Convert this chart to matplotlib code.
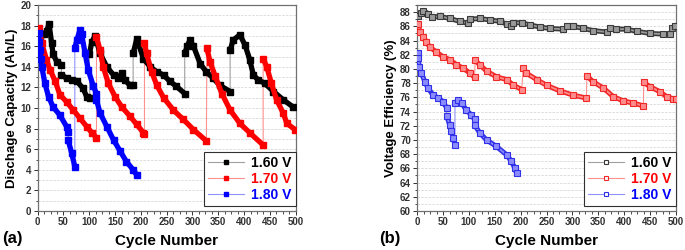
import matplotlib
matplotlib.use("Agg")
import matplotlib.pyplot as plt
from matplotlib.ticker import MultipleLocator
from matplotlib.lines import Line2D

plt.rcParams['font.family'] = ['Liberation Sans', 'DejaVu Sans']

# ---------------- data ----------------
labels = ["1.60 V", "1.70 V", "1.80 V"]

# Panel (a): discharge capacity (Ah/L); each series is a list of segments
cap_160_cycles = [
    [5, 12, 18, 22, 27, 30, 37, 46],
    [46, 56, 66, 76, 88, 95, 101],
    [100, 105, 111, 121, 134, 147, 156, 163, 169, 179, 185],
    [185, 192, 205, 218, 231, 244, 256, 269, 285],
    [285, 290, 295, 302, 315, 327, 340, 353, 373],
    [373, 379, 392, 402, 411, 418, 428, 440, 457, 476, 495],
]
cap_160_values = [
    [16.9, 17.2, 17.5, 18.2, 16.3, 15.2, 14.5, 14.2],
    [13.2, 12.9, 12.7, 12.6, 11.9, 11.1, 11.0],
    [15.2, 16.4, 17.0, 15.3, 14.0, 13.2, 12.9, 13.4, 12.7, 12.2, 12.2],
    [15.3, 16.7, 14.8, 14.0, 13.5, 13.2, 12.6, 12.1, 11.4],
    [15.3, 16.0, 16.6, 16.0, 14.3, 13.5, 12.9, 12.2, 11.6],
    [15.6, 16.6, 17.1, 16.1, 14.7, 13.2, 12.7, 12.4, 11.6, 10.8, 10.1],
]
cap_170_cycles = [
    [3, 8, 17, 24, 34, 43, 56, 69, 82, 95, 105, 114],
    [114, 121, 127, 137, 150, 163, 179, 192, 205, 207],
    [207, 211, 221, 231, 244, 263, 282, 302, 327],
    [328, 334, 344, 357, 373, 392, 411, 437],
    [437, 444, 453, 463, 476, 483, 499],
]
cap_170_values = [
    [17.8, 16.3, 14.7, 13.7, 12.6, 11.3, 10.6, 9.8, 9.0, 8.2, 7.6, 7.1],
    [16.9, 15.6, 14.0, 12.4, 11.1, 10.1, 9.2, 8.4, 7.6, 7.5],
    [16.3, 15.3, 13.5, 12.2, 11.0, 9.8, 8.9, 7.9, 6.8],
    [15.8, 14.5, 13.1, 11.4, 9.8, 8.5, 7.6, 6.4],
    [14.8, 14.0, 12.4, 10.8, 9.5, 8.5, 7.9],
]
cap_180_cycles = [
    [2, 3, 5, 6, 8, 14, 21, 30, 43, 56, 59],
    [59, 66, 72],
    [72, 76, 82, 85, 92, 98, 108, 114],
    [114, 121, 134, 147, 160, 172, 185, 192],
]
cap_180_values = [
    [17.3, 16.4, 15.6, 14.8, 14.0, 12.4, 11.1, 10.1, 9.3, 8.2, 7.7],
    [6.9, 5.6, 4.3],
    [15.8, 16.6, 17.6, 17.2, 15.3, 13.7, 12.1, 11.4],
    [10.8, 9.5, 8.2, 6.9, 5.8, 4.8, 4.0, 3.5],
]

# Panel (b): voltage efficiency (%)
ve_160_cycles = [
    [2, 7, 12, 21, 28, 44, 63, 82, 99],
    [102, 121, 140, 160, 173, 182],
    [186, 202, 218, 237, 256, 282],
    [289, 302, 321, 340, 366],
    [372, 385, 405, 424, 450, 476, 488],
    [492, 498],
]
ve_160_values = [
    [87.5, 87.9, 88.2, 87.8, 87.3, 87.4, 87.1, 86.7, 86.4],
    [87.0, 87.1, 86.9, 86.7, 86.3, 86.0],
    [86.5, 86.5, 86.2, 85.9, 85.7, 85.6],
    [86.0, 86.0, 85.7, 85.4, 85.2],
    [85.8, 85.6, 85.6, 85.3, 85.0, 84.9, 84.9],
    [85.7, 86.0],
]
ve_170_cycles = [
    [2, 5, 12, 18, 24, 37, 50, 63, 76, 89, 102, 111],
    [112, 121, 134, 153, 173, 186, 202],
    [205, 211, 231, 250, 276, 302, 327],
    [328, 340, 360, 379, 398, 418, 437],
    [438, 450, 469, 482, 495, 500],
]
ve_170_values = [
    [86.3, 85.2, 84.5, 83.8, 83.1, 82.4, 81.7, 81.3, 80.6, 80.1, 79.4, 78.8],
    [81.2, 80.6, 79.7, 78.9, 78.5, 77.7, 77.1],
    [80.1, 79.4, 78.5, 77.7, 76.9, 76.3, 75.9],
    [79.0, 78.2, 77.3, 76.1, 75.5, 75.2, 74.8],
    [78.1, 77.5, 76.8, 76.1, 75.8, 75.8],
]
ve_180_cycles = [
    [1, 2, 4, 8, 15, 21, 31, 41, 50, 57],
    [57, 63, 66, 70, 73],
    [73, 79, 86, 95, 105, 111],
    [111, 121, 134, 153, 173, 182, 189, 192],
]
ve_180_values = [
    [82.3, 81.5, 80.3, 79.4, 78.2, 77.3, 76.3, 75.9, 75.4, 74.5],
    [73.4, 72.1, 71.2, 70.3, 69.3],
    [75.2, 75.6, 75.2, 74.2, 73.5, 72.9],
    [72.1, 71.0, 70.0, 69.1, 67.9, 67.0, 66.0, 65.3],
]

dark = ['#000000', '#ff0000', '#0000ff']
light = ['#a0a0a0', '#ff9090', '#9090ff']
band_b = ['#3a3a3a', '#f02828', '#3030e8']
tint_b = ['#9a9a9a', '#ff8c8c', '#8c8cff']

fig = plt.figure(figsize=(6.85, 2.5), dpi=100)
axa = fig.add_axes([0.055, 0.156, 0.3766, 0.824])
axb = fig.add_axes([0.609, 0.156, 0.3777, 0.824])


def flat(segs):
    return [v for s in segs for v in s]


def draw(ax, cyc, val, i, filled):
    # thin connecting line (shows the jumps between segments)
    ax.plot(flat(cyc), flat(val), color=light[i], lw=0.8, zorder=2)
    for xs, ys in zip(cyc, val):
        if filled:
            ax.plot(xs, ys, color=dark[i], lw=3.8, solid_capstyle='butt',
                    marker='s', ms=4.0, mfc=dark[i], mec=dark[i], zorder=3)
        else:
            ax.plot(xs, ys, color=band_b[i], lw=3.6, solid_capstyle='butt',
                    zorder=3)
            ax.plot(xs, ys, color=tint_b[i], lw=1.3, solid_capstyle='butt',
                    zorder=4)
            ax.plot(xs, ys, ls='none', marker='s', ms=3.8, mfc=tint_b[i],
                    mec=band_b[i], mew=0.8, zorder=5)


draw(axa, cap_160_cycles, cap_160_values, 0, True)
draw(axa, cap_170_cycles, cap_170_values, 1, True)
draw(axa, cap_180_cycles, cap_180_values, 2, True)

draw(axb, ve_160_cycles, ve_160_values, 0, False)
draw(axb, ve_170_cycles, ve_170_values, 1, False)
draw(axb, ve_180_cycles, ve_180_values, 2, False)

for ax, lims, major, minor in [(axa, (0, 20), 2, 1), (axb, (60, 89), 2, 1)]:
    ax.set_xlim(0, 500)
    ax.set_ylim(*lims)
    ax.xaxis.set_major_locator(MultipleLocator(50))
    ax.xaxis.set_minor_locator(MultipleLocator(12.5))
    ax.yaxis.set_major_locator(MultipleLocator(major))
    ax.yaxis.set_minor_locator(MultipleLocator(minor))
    ax.yaxis.grid(True, which='both', color='#d8d8d8', ls=(0, (3, 1.5)), lw=0.6)
    ax.set_axisbelow(True)
    ax.tick_params(which='major', direction='out', length=3, width=0.7,
                   labelsize=7, pad=1.5, colors='#303030')
    ax.tick_params(which='minor', direction='out', length=1.8, width=0.6,
                   colors='#303030')
    for sp in ax.spines.values():
        sp.set_color('#707070')
        sp.set_linewidth(0.9)
    for lab in ax.get_xticklabels() + ax.get_yticklabels():
        lab.set_fontweight('bold')
    ax.set_xlabel('Cycle Number', fontsize=11, fontweight='bold', labelpad=5)

axa.set_ylabel('Dischage Capacity (Ah/L)', fontsize=9.5, fontweight='bold', labelpad=2)
axb.set_ylabel('Voltage Efficiency (%)', fontsize=9.5, fontweight='bold', labelpad=2)


def legend(ax, filled, bb):
    handles = []
    for i in range(3):
        if filled:
            h = Line2D([0], [0], color=light[i], lw=0.8, marker='s', ms=3.5,
                       mfc=dark[i], mec=dark[i])
        else:
            h = Line2D([0], [0], color=light[i], lw=0.8, marker='s', ms=3.5,
                       mfc='white', mec=band_b[i], mew=0.8)
        handles.append(h)
    leg = ax.legend(handles, labels, loc='lower right', bbox_to_anchor=bb,
                    borderaxespad=0, fancybox=False, edgecolor='#303030',
                    framealpha=1, handlelength=2.6, handletextpad=0.5,
                    borderpad=0.3, labelspacing=0.15,
                    prop={'weight': 'bold', 'size': 10})
    leg.get_frame().set_linewidth(0.8)
    for t, c in zip(leg.get_texts(), dark):
        t.set_color(c)


legend(axa, True, (1.0, 0.024))
legend(axb, False, (1.0, 0.024))

fig.text(0.003, 0.048, '(a)', fontsize=12, fontweight='bold', va='center', ha='left')
fig.text(0.553, 0.048, '(b)', fontsize=12, fontweight='bold', va='center', ha='left')

fig.savefig('out.png', dpi=100)
